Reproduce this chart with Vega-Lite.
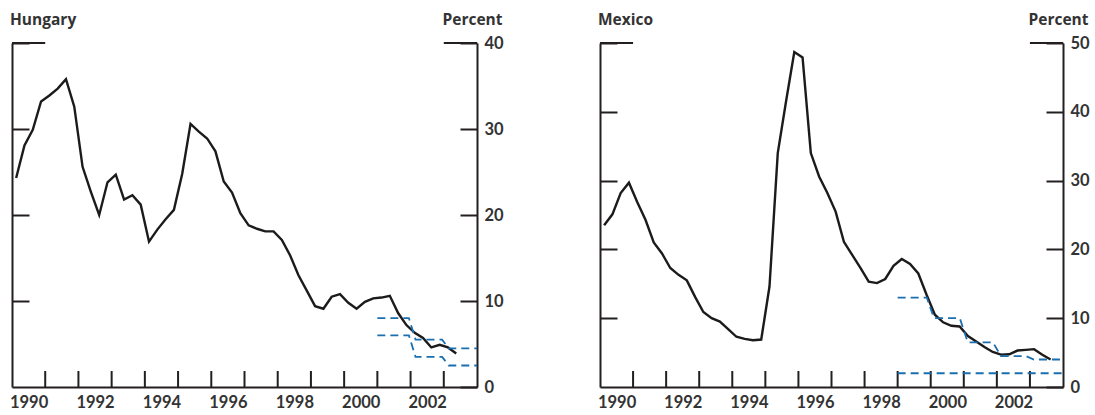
{
  "$schema": "https://vega.github.io/schema/vega-lite/v6.json",
  "background": "white",
  "padding": {"left": 9, "top": 12, "right": 5, "bottom": 5},
  "spacing": 93,
  "config": {
    "view": {"stroke": null},
    "font": "Lato",
    "title": {"font": "Open Sans", "fontSize": 15.5, "fontWeight": "bold", "color": "#333333", "anchor": "start", "frame": "group", "dx": -2, "offset": -16},
    "axis": {"grid": false, "domainColor": "#231f20", "domainWidth": 2, "tickColor": "#231f20", "tickWidth": 2, "labelFont": "Lato", "labelFontWeight": "bold", "labelFontSize": 16.5, "labelColor": "#333333", "titleFont": "Open Sans", "titleFontWeight": "bold", "titleFontSize": 15.5, "titleColor": "#333333"}
  },
  "datasets": {
    "yrs": [{"t": 1991}, {"t": 1992}, {"t": 1993}, {"t": 1994}, {"t": 1995}, {"t": 1996}, {"t": 1997}, {"t": 1998}, {"t": 1999}, {"t": 2000}, {"t": 2001}, {"t": 2002}, {"t": 2003}],
    "hu": [
      {"t": 1990.125, "v": 24.3}, {"t": 1990.375, "v": 28.1}, {"t": 1990.625, "v": 29.9}, {"t": 1990.875, "v": 33.2},
      {"t": 1991.125, "v": 33.9}, {"t": 1991.375, "v": 34.7}, {"t": 1991.625, "v": 35.8}, {"t": 1991.875, "v": 32.6},
      {"t": 1992.125, "v": 25.6}, {"t": 1992.375, "v": 22.7}, {"t": 1992.625, "v": 20.0}, {"t": 1992.875, "v": 23.8},
      {"t": 1993.125, "v": 24.7}, {"t": 1993.375, "v": 21.8}, {"t": 1993.625, "v": 22.3}, {"t": 1993.875, "v": 21.2},
      {"t": 1994.125, "v": 16.9}, {"t": 1994.375, "v": 18.3}, {"t": 1994.625, "v": 19.5}, {"t": 1994.875, "v": 20.6},
      {"t": 1995.125, "v": 24.8}, {"t": 1995.375, "v": 30.6}, {"t": 1995.625, "v": 29.7}, {"t": 1995.875, "v": 28.9},
      {"t": 1996.125, "v": 27.4}, {"t": 1996.375, "v": 23.9}, {"t": 1996.625, "v": 22.6}, {"t": 1996.875, "v": 20.2},
      {"t": 1997.125, "v": 18.8}, {"t": 1997.375, "v": 18.4}, {"t": 1997.625, "v": 18.1}, {"t": 1997.875, "v": 18.1},
      {"t": 1998.125, "v": 17.1}, {"t": 1998.375, "v": 15.3}, {"t": 1998.625, "v": 13.0}, {"t": 1998.875, "v": 11.2},
      {"t": 1999.125, "v": 9.4}, {"t": 1999.375, "v": 9.1}, {"t": 1999.625, "v": 10.5}, {"t": 1999.875, "v": 10.8},
      {"t": 2000.125, "v": 9.8}, {"t": 2000.375, "v": 9.1}, {"t": 2000.625, "v": 9.9}, {"t": 2000.875, "v": 10.3},
      {"t": 2001.125, "v": 10.4}, {"t": 2001.375, "v": 10.6}, {"t": 2001.625, "v": 8.6}, {"t": 2001.875, "v": 7.2},
      {"t": 2002.125, "v": 6.3}, {"t": 2002.375, "v": 5.7}, {"t": 2002.625, "v": 4.6}, {"t": 2002.875, "v": 4.9},
      {"t": 2003.125, "v": 4.6}, {"t": 2003.375, "v": 3.9}
    ],
    "huBand": [
      {"b": "upper", "t": 2001.0, "v": 8}, {"b": "upper", "t": 2001.95, "v": 8}, {"b": "upper", "t": 2002.15, "v": 5.5},
      {"b": "upper", "t": 2002.95, "v": 5.5}, {"b": "upper", "t": 2003.15, "v": 4.5}, {"b": "upper", "t": 2004.0, "v": 4.5},
      {"b": "lower", "t": 2001.0, "v": 6}, {"b": "lower", "t": 2001.95, "v": 6}, {"b": "lower", "t": 2002.15, "v": 3.5},
      {"b": "lower", "t": 2002.95, "v": 3.5}, {"b": "lower", "t": 2003.15, "v": 2.5}, {"b": "lower", "t": 2004.0, "v": 2.5}
    ],
    "huTop": [{"t": 1990, "t2": 1991, "v": 40}, {"t": 2003, "t2": 2004, "v": 40}],
    "mx": [
      {"t": 1990.125, "v": 23.5}, {"t": 1990.375, "v": 25.1}, {"t": 1990.625, "v": 28.2}, {"t": 1990.875, "v": 29.7},
      {"t": 1991.125, "v": 26.9}, {"t": 1991.375, "v": 24.3}, {"t": 1991.625, "v": 21.0}, {"t": 1991.875, "v": 19.4},
      {"t": 1992.125, "v": 17.3}, {"t": 1992.375, "v": 16.3}, {"t": 1992.625, "v": 15.5}, {"t": 1992.875, "v": 13.1},
      {"t": 1993.125, "v": 10.9}, {"t": 1993.375, "v": 10.0}, {"t": 1993.625, "v": 9.5}, {"t": 1993.875, "v": 8.4},
      {"t": 1994.125, "v": 7.3}, {"t": 1994.375, "v": 7.0}, {"t": 1994.625, "v": 6.8}, {"t": 1994.875, "v": 6.9},
      {"t": 1995.125, "v": 14.6}, {"t": 1995.375, "v": 34.0}, {"t": 1995.625, "v": 41.5}, {"t": 1995.875, "v": 48.7},
      {"t": 1996.125, "v": 47.9}, {"t": 1996.375, "v": 34.0}, {"t": 1996.625, "v": 30.6}, {"t": 1996.875, "v": 28.2},
      {"t": 1997.125, "v": 25.5}, {"t": 1997.375, "v": 21.1}, {"t": 1997.625, "v": 19.2}, {"t": 1997.875, "v": 17.3},
      {"t": 1998.125, "v": 15.3}, {"t": 1998.375, "v": 15.1}, {"t": 1998.625, "v": 15.7}, {"t": 1998.875, "v": 17.6},
      {"t": 1999.125, "v": 18.6}, {"t": 1999.375, "v": 17.9}, {"t": 1999.625, "v": 16.5}, {"t": 1999.875, "v": 13.4},
      {"t": 2000.125, "v": 10.5}, {"t": 2000.375, "v": 9.4}, {"t": 2000.625, "v": 8.9}, {"t": 2000.875, "v": 8.8},
      {"t": 2001.125, "v": 7.4}, {"t": 2001.375, "v": 6.6}, {"t": 2001.625, "v": 5.8}, {"t": 2001.875, "v": 5.1},
      {"t": 2002.125, "v": 4.7}, {"t": 2002.375, "v": 4.75}, {"t": 2002.625, "v": 5.3}, {"t": 2002.875, "v": 5.4},
      {"t": 2003.125, "v": 5.5}, {"t": 2003.375, "v": 4.7}, {"t": 2003.625, "v": 4.0}
    ],
    "mxBand": [
      {"b": "target", "t": 1999.0, "v": 13}, {"b": "target", "t": 1999.88, "v": 13}, {"b": "target", "t": 2000.1, "v": 10},
      {"b": "target", "t": 2000.88, "v": 10}, {"b": "target", "t": 2001.12, "v": 6.5}, {"b": "target", "t": 2001.88, "v": 6.5},
      {"b": "target", "t": 2002.12, "v": 4.5}, {"b": "target", "t": 2002.88, "v": 4.5}, {"b": "target", "t": 2003.12, "v": 4.0},
      {"b": "target", "t": 2004.0, "v": 4.0},
      {"b": "floor", "t": 1999.0, "v": 2}, {"b": "floor", "t": 2004.0, "v": 2}
    ],
    "mxTop": [{"t": 1990, "t2": 1991, "v": 50}, {"t": 2003, "t2": 2004, "v": 50}]
  },
  "hconcat": [
    {
      "title": {"text": "Hungary"},
      "width": 465,
      "height": 344,
      "resolve": {"axis": {"y": "independent"}},
      "layer": [
        {
          "data": {"name": "huTop"},
          "mark": {"type": "rule", "color": "#231f20", "strokeWidth": 2},
          "encoding": {
            "x": {"field": "t", "type": "quantitative", "scale": {"domain": [1990, 2004], "nice": false, "zero": false},
                  "axis": {"orient": "bottom", "title": null, "values": [1990, 1992, 1994, 1996, 1998, 2000, 2002], "format": "d",
                           "labelOffset": 16.6, "labelOverlap": false, "labelFlush": false, "labelBound": false, "ticks": false, "labelPadding": 7}},
            "x2": {"field": "t2"},
            "y": {"field": "v", "type": "quantitative", "scale": {"domain": [0, 40], "nice": false},
                  "axis": {"orient": "left", "title": null, "values": [10, 20, 30, 40], "labels": false, "tickSize": -17}}
          }
        },
        {
          "data": {"name": "yrs"},
          "mark": {"type": "tick", "orient": "vertical", "size": 16, "thickness": 2, "yOffset": -8, "color": "#231f20", "opacity": 1},
          "encoding": {
            "x": {"field": "t", "type": "quantitative"},
            "y": {"datum": 0, "type": "quantitative", "axis": null}
          }
        },
        {
          "data": {"name": "hu"},
          "mark": {"type": "line", "color": "#1c1a1b", "strokeWidth": 2.4},
          "encoding": {
            "x": {"field": "t", "type": "quantitative"},
            "y": {"field": "v", "type": "quantitative",
                  "axis": {"orient": "right", "title": "Percent", "titleAngle": 0, "titleAlign": "right", "titleBaseline": "alphabetic", "titleX": 25, "titleY": -19,
                           "values": [0, 10, 20, 30, 40], "tickSize": -17, "labelPadding": 24, "labelAlign": "left"}}
          }
        },
        {
          "data": {"name": "huBand"},
          "mark": {"type": "line", "color": "#1a6fb0", "strokeWidth": 1.8, "strokeDash": [8, 5]},
          "encoding": {
            "x": {"field": "t", "type": "quantitative"},
            "y": {"field": "v", "type": "quantitative", "axis": null},
            "detail": {"field": "b"}
          }
        }
      ]
    },
    {
      "title": {"text": "Mexico"},
      "width": 463,
      "height": 344,
      "resolve": {"axis": {"y": "independent"}},
      "layer": [
        {
          "data": {"name": "mxTop"},
          "mark": {"type": "rule", "color": "#231f20", "strokeWidth": 2},
          "encoding": {
            "x": {"field": "t", "type": "quantitative", "scale": {"domain": [1990, 2004], "nice": false, "zero": false},
                  "axis": {"orient": "bottom", "title": null, "values": [1990, 1992, 1994, 1996, 1998, 2000, 2002], "format": "d",
                           "labelOffset": 16.6, "labelOverlap": false, "labelFlush": false, "labelBound": false, "ticks": false, "labelPadding": 7}},
            "x2": {"field": "t2"},
            "y": {"field": "v", "type": "quantitative", "scale": {"domain": [0, 50], "nice": false},
                  "axis": {"orient": "left", "title": null, "values": [10, 20, 30, 40, 50], "labels": false, "tickSize": -17}}
          }
        },
        {
          "data": {"name": "yrs"},
          "mark": {"type": "tick", "orient": "vertical", "size": 16, "thickness": 2, "yOffset": -8, "color": "#231f20", "opacity": 1},
          "encoding": {
            "x": {"field": "t", "type": "quantitative"},
            "y": {"datum": 0, "type": "quantitative", "axis": null}
          }
        },
        {
          "data": {"name": "mx"},
          "mark": {"type": "line", "color": "#1c1a1b", "strokeWidth": 2.4},
          "encoding": {
            "x": {"field": "t", "type": "quantitative"},
            "y": {"field": "v", "type": "quantitative",
                  "axis": {"orient": "right", "title": "Percent", "titleAngle": 0, "titleAlign": "right", "titleBaseline": "alphabetic", "titleX": 25, "titleY": -19,
                           "values": [0, 10, 20, 30, 40, 50], "tickSize": -17, "labelPadding": 24, "labelAlign": "left"}}
          }
        },
        {
          "data": {"name": "mxBand"},
          "mark": {"type": "line", "color": "#1a6fb0", "strokeWidth": 1.8, "strokeDash": [8, 5]},
          "encoding": {
            "x": {"field": "t", "type": "quantitative"},
            "y": {"field": "v", "type": "quantitative", "axis": null},
            "detail": {"field": "b"}
          }
        }
      ]
    }
  ]
}
